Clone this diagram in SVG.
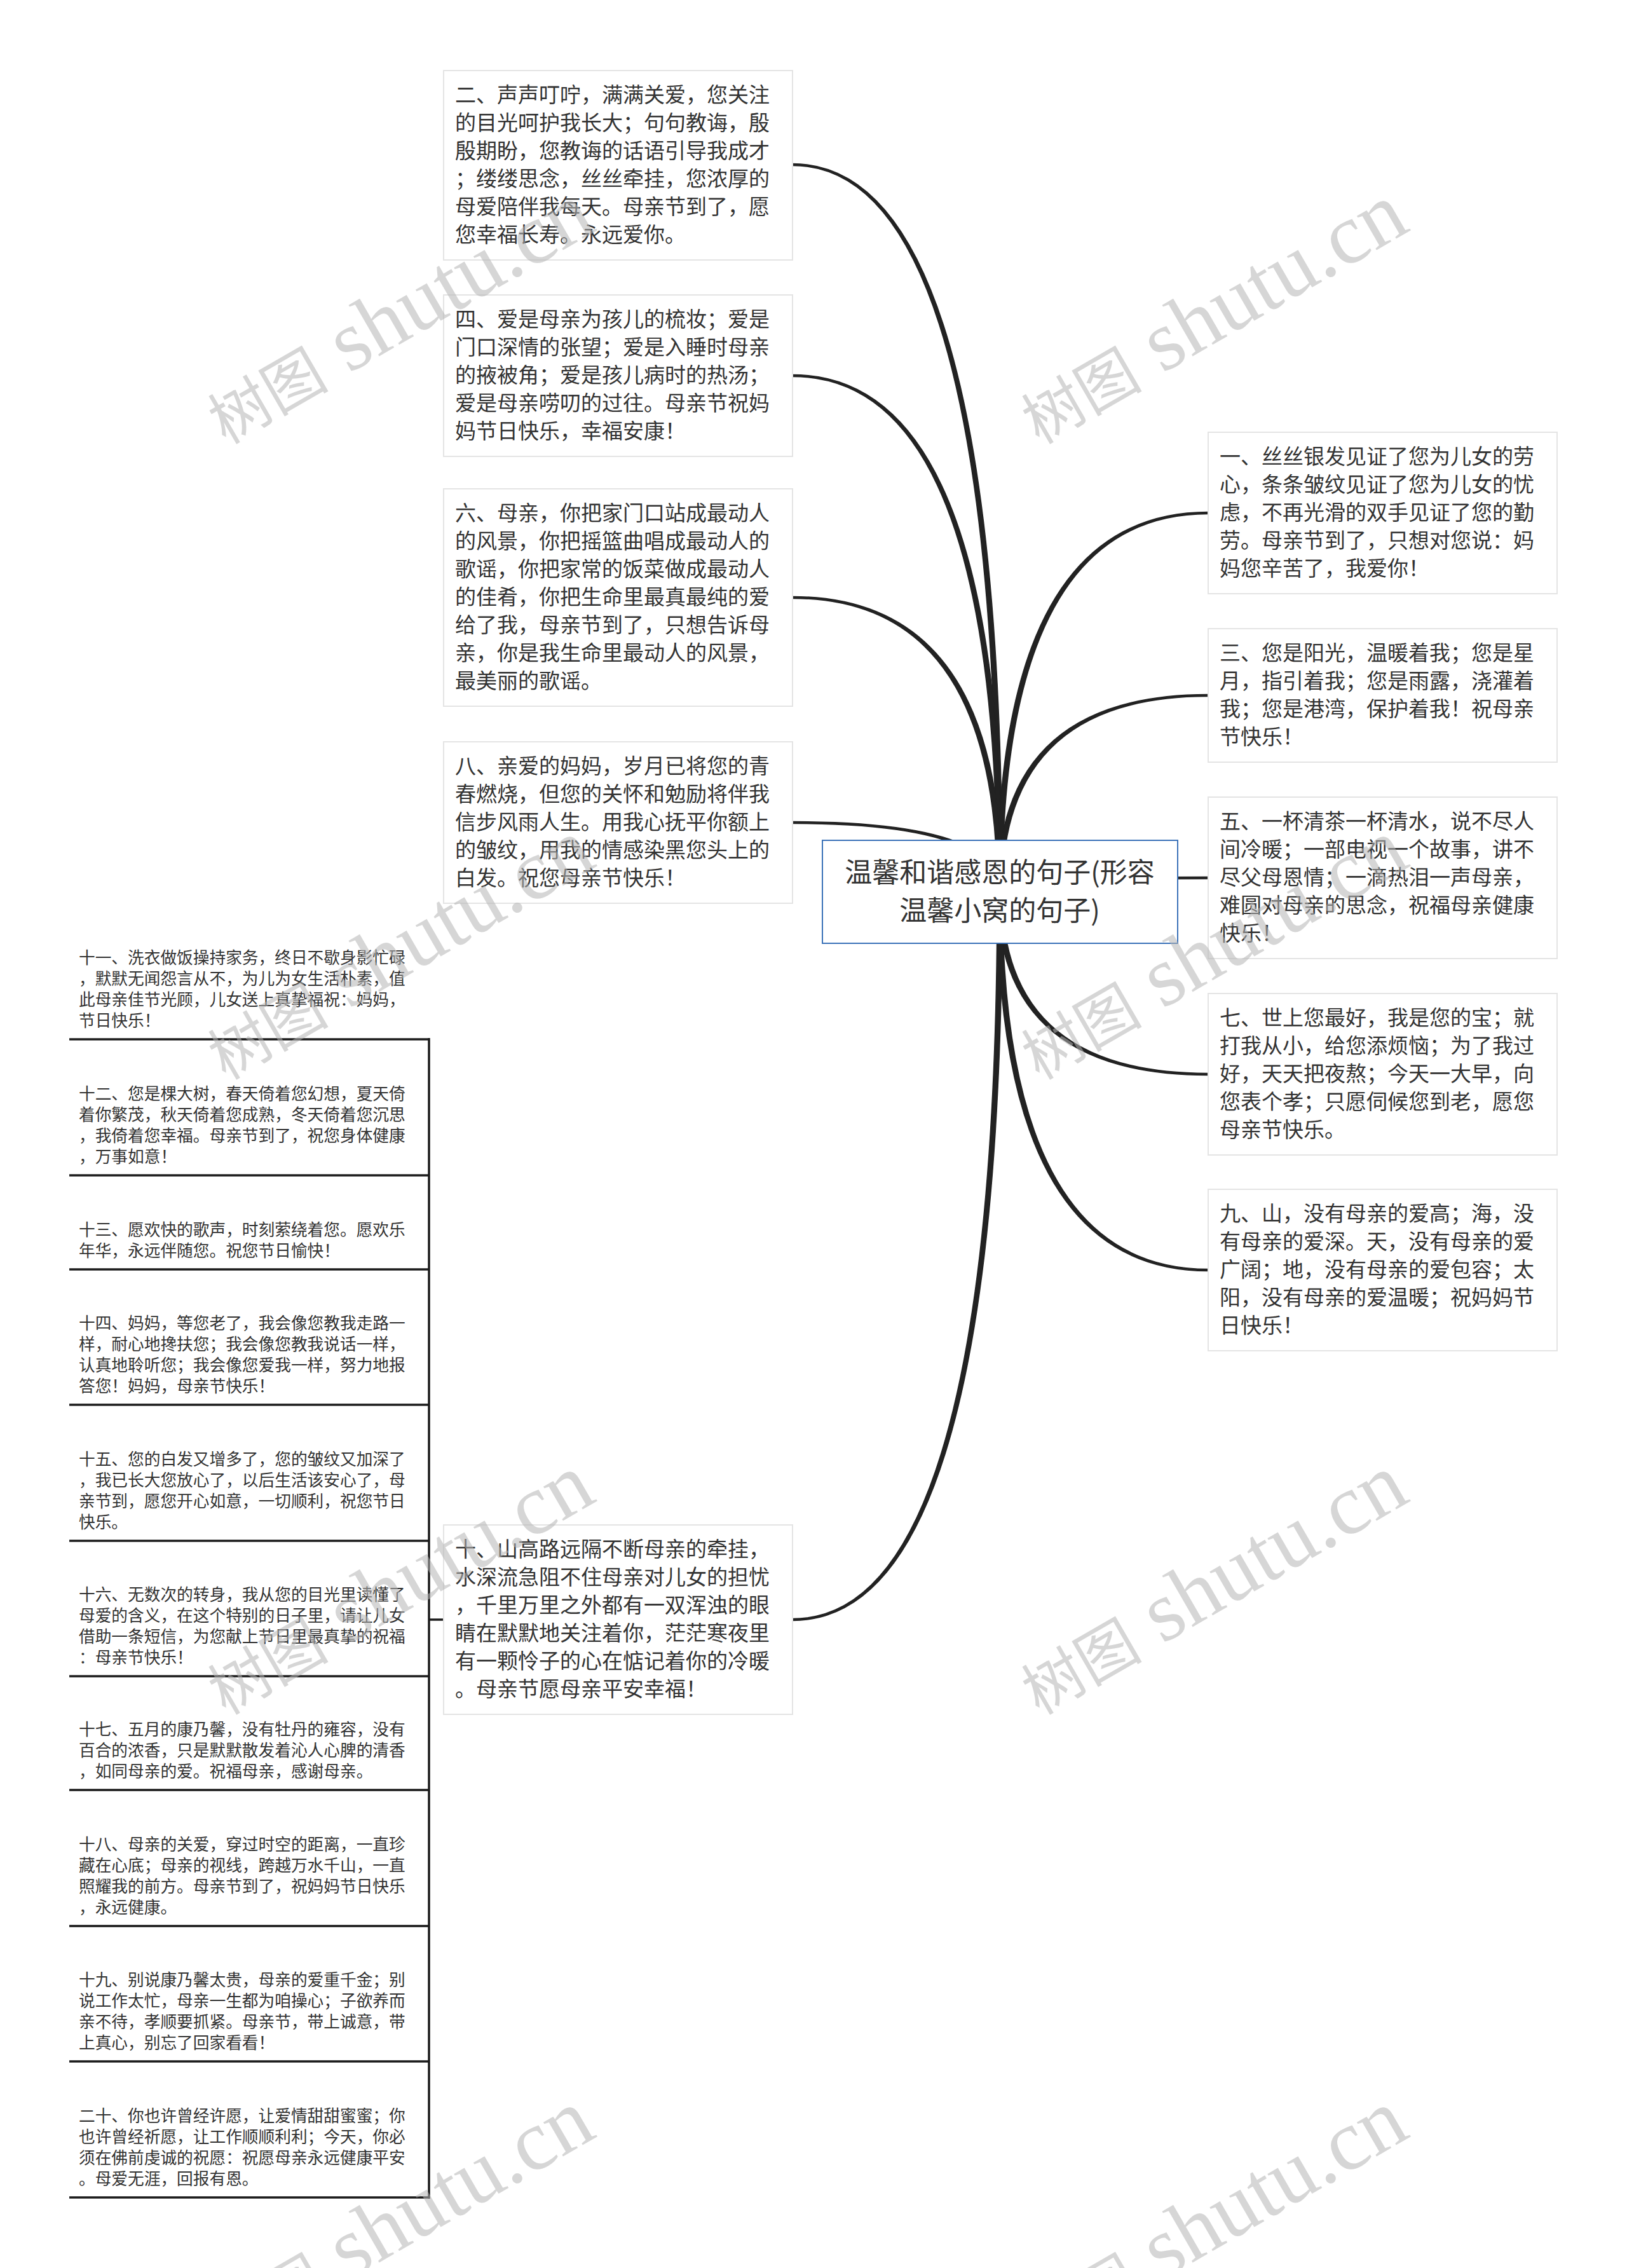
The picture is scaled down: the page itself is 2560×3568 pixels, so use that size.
<svg xmlns="http://www.w3.org/2000/svg" width="2560" height="3568" viewBox="0 0 2560 3568">
<style>
.bg{fill:#ffffff}
.box{fill:#ffffff;stroke:#e4e4e4;stroke-width:2}
.root{fill:#ffffff;stroke:#3b72b8;stroke-width:2}
.t{font-family:"Noto Sans CJK SC","Noto Sans",sans-serif;font-size:33px;fill:#333333}
.s{font-family:"Noto Sans CJK SC","Noto Sans",sans-serif;font-size:25.7px;fill:#333333}
.c{font-family:"Noto Sans CJK SC","Noto Sans",sans-serif;font-size:43px;fill:#333333;text-anchor:middle}
.link{fill:#222222;stroke:#222222;stroke-width:1.5;stroke-linejoin:round}
.tree{fill:none;stroke:#1a1a1a;stroke-width:3.5}
.ul{stroke:#1a1a1a;stroke-width:3.5}
.wm{font-family:"Liberation Serif","Noto Sans CJK SC",serif;fill:#b4b4b4;fill-opacity:0.55}
</style>
<rect class="bg" x="0" y="0" width="2560" height="3568"/>
<g id="connectors">
<path class="link" d="M1569,1403 Q1569,260.5 1247,260.5 L1247,257.5 Q1577,257.5 1577,1403 Z"/>
<path class="link" d="M1569,1403 Q1569,592.5 1247,592.5 L1247,589.5 Q1577,589.5 1577,1403 Z"/>
<path class="link" d="M1569,1403 Q1569,941.5 1247,941.5 L1247,938.5 Q1577,938.5 1577,1403 Z"/>
<path class="link" d="M1569,1403 Q1569,1295.5 1247,1295.5 L1247,1292.5 Q1577,1292.5 1577,1403 Z"/>
<path class="link" d="M1569,1403 Q1569,2546.5 1247,2546.5 L1247,2549.5 Q1577,2549.5 1577,1403 Z"/>
<path class="link" d="M1577,1403 Q1577,808.5 1901,808.5 L1901,805.5 Q1569,805.5 1569,1403 Z"/>
<path class="link" d="M1577,1403 Q1577,1095.5 1901,1095.5 L1901,1092.5 Q1569,1092.5 1569,1403 Z"/>
<path class="link" d="M1577,1403 Q1577,1382.5 1901,1382.5 L1901,1379.5 Q1569,1379.5 1569,1403 Z"/>
<path class="link" d="M1577,1403 Q1577,1688.5 1901,1688.5 L1901,1691.5 Q1569,1691.5 1569,1403 Z"/>
<path class="link" d="M1577,1403 Q1577,1996.5 1901,1996.5 L1901,1999.5 Q1569,1999.5 1569,1403 Z"/>
<path class="tree" d="M698,2548 H675"/>
<path class="tree" d="M675,1633 V3459"/>
</g>
<g id="root">
<rect class="root" x="1294" y="1322" width="559" height="162"/>
<text class="c" x="1573" y="1388">温馨和谐感恩的句子(形容</text>
<text class="c" x="1573" y="1448">温馨小窝的句子)</text>
</g>
<g id="n2">
<rect class="box" x="698" y="111" width="549" height="298"/>
<text class="t" x="716" y="161">二、声声叮咛，满满关爱，您关注</text>
<text class="t" x="716" y="205">的目光呵护我长大；句句教诲，殷</text>
<text class="t" x="716" y="249">殷期盼，您教诲的话语引导我成才</text>
<text class="t" x="716" y="293">；缕缕思念，丝丝牵挂，您浓厚的</text>
<text class="t" x="716" y="337">母爱陪伴我每天。母亲节到了，愿</text>
<text class="t" x="716" y="381">您幸福长寿。永远爱你。</text>
</g>
<g id="n4">
<rect class="box" x="698" y="464" width="549" height="254"/>
<text class="t" x="716" y="514">四、爱是母亲为孩儿的梳妆；爱是</text>
<text class="t" x="716" y="558">门口深情的张望；爱是入睡时母亲</text>
<text class="t" x="716" y="602">的掖被角；爱是孩儿病时的热汤；</text>
<text class="t" x="716" y="646">爱是母亲唠叨的过往。母亲节祝妈</text>
<text class="t" x="716" y="690">妈节日快乐，幸福安康！</text>
</g>
<g id="n6">
<rect class="box" x="698" y="769" width="549" height="342"/>
<text class="t" x="716" y="819">六、母亲，你把家门口站成最动人</text>
<text class="t" x="716" y="863">的风景，你把摇篮曲唱成最动人的</text>
<text class="t" x="716" y="907">歌谣，你把家常的饭菜做成最动人</text>
<text class="t" x="716" y="951">的佳肴，你把生命里最真最纯的爱</text>
<text class="t" x="716" y="995">给了我，母亲节到了，只想告诉母</text>
<text class="t" x="716" y="1039">亲，你是我生命里最动人的风景，</text>
<text class="t" x="716" y="1083">最美丽的歌谣。</text>
</g>
<g id="n8">
<rect class="box" x="698" y="1167" width="549" height="254"/>
<text class="t" x="716" y="1217">八、亲爱的妈妈，岁月已将您的青</text>
<text class="t" x="716" y="1261">春燃烧，但您的关怀和勉励将伴我</text>
<text class="t" x="716" y="1305">信步风雨人生。用我心抚平你额上</text>
<text class="t" x="716" y="1349">的皱纹，用我的情感染黑您头上的</text>
<text class="t" x="716" y="1393">白发。祝您母亲节快乐！</text>
</g>
<g id="n10">
<rect class="box" x="698" y="2399" width="549" height="298"/>
<text class="t" x="716" y="2449">十、山高路远隔不断母亲的牵挂，</text>
<text class="t" x="716" y="2493">水深流急阻不住母亲对儿女的担忧</text>
<text class="t" x="716" y="2537">，千里万里之外都有一双浑浊的眼</text>
<text class="t" x="716" y="2581">睛在默默地关注着你，茫茫寒夜里</text>
<text class="t" x="716" y="2625">有一颗怜子的心在惦记着你的冷暖</text>
<text class="t" x="716" y="2669">。母亲节愿母亲平安幸福！</text>
</g>
<g id="n1">
<rect class="box" x="1901" y="680" width="549" height="254"/>
<text class="t" x="1919" y="730">一、丝丝银发见证了您为儿女的劳</text>
<text class="t" x="1919" y="774">心，条条皱纹见证了您为儿女的忧</text>
<text class="t" x="1919" y="818">虑，不再光滑的双手见证了您的勤</text>
<text class="t" x="1919" y="862">劳。母亲节到了，只想对您说：妈</text>
<text class="t" x="1919" y="906">妈您辛苦了，我爱你！</text>
</g>
<g id="n3">
<rect class="box" x="1901" y="989" width="549" height="210"/>
<text class="t" x="1919" y="1039">三、您是阳光，温暖着我；您是星</text>
<text class="t" x="1919" y="1083">月，指引着我；您是雨露，浇灌着</text>
<text class="t" x="1919" y="1127">我；您是港湾，保护着我！祝母亲</text>
<text class="t" x="1919" y="1171">节快乐！</text>
</g>
<g id="n5">
<rect class="box" x="1901" y="1254" width="549" height="254"/>
<text class="t" x="1919" y="1304">五、一杯清茶一杯清水，说不尽人</text>
<text class="t" x="1919" y="1348">间冷暖；一部电视一个故事，讲不</text>
<text class="t" x="1919" y="1392">尽父母恩情；一滴热泪一声母亲，</text>
<text class="t" x="1919" y="1436">难圆对母亲的思念，祝福母亲健康</text>
<text class="t" x="1919" y="1480">快乐！</text>
</g>
<g id="n7">
<rect class="box" x="1901" y="1563" width="549" height="254"/>
<text class="t" x="1919" y="1613">七、世上您最好，我是您的宝；就</text>
<text class="t" x="1919" y="1657">打我从小，给您添烦恼；为了我过</text>
<text class="t" x="1919" y="1701">好，天天把夜熬；今天一大早，向</text>
<text class="t" x="1919" y="1745">您表个孝；只愿伺候您到老，愿您</text>
<text class="t" x="1919" y="1789">母亲节快乐。</text>
</g>
<g id="n9">
<rect class="box" x="1901" y="1871" width="549" height="254"/>
<text class="t" x="1919" y="1921">九、山，没有母亲的爱高；海，没</text>
<text class="t" x="1919" y="1965">有母亲的爱深。天，没有母亲的爱</text>
<text class="t" x="1919" y="2009">广阔；地，没有母亲的爱包容；太</text>
<text class="t" x="1919" y="2053">阳，没有母亲的爱温暖；祝妈妈节</text>
<text class="t" x="1919" y="2097">日快乐！</text>
</g>
<g id="n11">
<text class="s" x="124" y="1516">十一、洗衣做饭操持家务，终日不歇身影忙碌</text>
<text class="s" x="124" y="1549">，默默无闻怨言从不，为儿为女生活朴素，值</text>
<text class="s" x="124" y="1582">此母亲佳节光顾，儿女送上真挚福祝：妈妈，</text>
<text class="s" x="124" y="1615">节日快乐！</text>
<line class="ul" x1="109" y1="1635" x2="675" y2="1635"/>
</g>
<g id="n12">
<text class="s" x="124" y="1730">十二、您是棵大树，春天倚着您幻想，夏天倚</text>
<text class="s" x="124" y="1763">着你繁茂，秋天倚着您成熟，冬天倚着您沉思</text>
<text class="s" x="124" y="1796">，我倚着您幸福。母亲节到了，祝您身体健康</text>
<text class="s" x="124" y="1829">，万事如意！</text>
<line class="ul" x1="109" y1="1849" x2="675" y2="1849"/>
</g>
<g id="n13">
<text class="s" x="124" y="1944">十三、愿欢快的歌声，时刻萦绕着您。愿欢乐</text>
<text class="s" x="124" y="1977">年华，永远伴随您。祝您节日愉快！</text>
<line class="ul" x1="109" y1="1997" x2="675" y2="1997"/>
</g>
<g id="n14">
<text class="s" x="124" y="2091">十四、妈妈，等您老了，我会像您教我走路一</text>
<text class="s" x="124" y="2124">样，耐心地搀扶您；我会像您教我说话一样，</text>
<text class="s" x="124" y="2157">认真地聆听您；我会像您爱我一样，努力地报</text>
<text class="s" x="124" y="2190">答您！妈妈，母亲节快乐！</text>
<line class="ul" x1="109" y1="2210" x2="675" y2="2210"/>
</g>
<g id="n15">
<text class="s" x="124" y="2305">十五、您的白发又增多了，您的皱纹又加深了</text>
<text class="s" x="124" y="2338">，我已长大您放心了，以后生活该安心了，母</text>
<text class="s" x="124" y="2371">亲节到，愿您开心如意，一切顺利，祝您节日</text>
<text class="s" x="124" y="2404">快乐。</text>
<line class="ul" x1="109" y1="2424" x2="675" y2="2424"/>
</g>
<g id="n16">
<text class="s" x="124" y="2518">十六、无数次的转身，我从您的目光里读懂了</text>
<text class="s" x="124" y="2551">母爱的含义，在这个特别的日子里，请让儿女</text>
<text class="s" x="124" y="2584">借助一条短信，为您献上节日里最真挚的祝福</text>
<text class="s" x="124" y="2617">：母亲节快乐！</text>
<line class="ul" x1="109" y1="2637" x2="675" y2="2637"/>
</g>
<g id="n17">
<text class="s" x="124" y="2730">十七、五月的康乃馨，没有牡丹的雍容，没有</text>
<text class="s" x="124" y="2763">百合的浓香，只是默默散发着沁人心脾的清香</text>
<text class="s" x="124" y="2796">，如同母亲的爱。祝福母亲，感谢母亲。</text>
<line class="ul" x1="109" y1="2816" x2="675" y2="2816"/>
</g>
<g id="n18">
<text class="s" x="124" y="2911">十八、母亲的关爱，穿过时空的距离，一直珍</text>
<text class="s" x="124" y="2944">藏在心底；母亲的视线，跨越万水千山，一直</text>
<text class="s" x="124" y="2977">照耀我的前方。母亲节到了，祝妈妈节日快乐</text>
<text class="s" x="124" y="3010">，永远健康。</text>
<line class="ul" x1="109" y1="3030" x2="675" y2="3030"/>
</g>
<g id="n19">
<text class="s" x="124" y="3124">十九、别说康乃馨太贵，母亲的爱重千金；别</text>
<text class="s" x="124" y="3157">说工作太忙，母亲一生都为咱操心；子欲养而</text>
<text class="s" x="124" y="3190">亲不待，孝顺要抓紧。母亲节，带上诚意，带</text>
<text class="s" x="124" y="3223">上真心，别忘了回家看看！</text>
<line class="ul" x1="109" y1="3243" x2="675" y2="3243"/>
</g>
<g id="n20">
<text class="s" x="124" y="3338">二十、你也许曾经许愿，让爱情甜甜蜜蜜；你</text>
<text class="s" x="124" y="3371">也许曾经祈愿，让工作顺顺利利；今天，你必</text>
<text class="s" x="124" y="3404">须在佛前虔诚的祝愿：祝愿母亲永远健康平安</text>
<text class="s" x="124" y="3437">。母爱无涯，回报有恩。</text>
<line class="ul" x1="109" y1="3457" x2="675" y2="3457"/>
</g>
<g id="watermarks">
<text class="wm" transform="translate(355,700) rotate(-30)"><tspan font-size="95">树图</tspan><tspan font-size="135"> shutu.cn</tspan></text>
<text class="wm" transform="translate(1635,700) rotate(-30)"><tspan font-size="95">树图</tspan><tspan font-size="135"> shutu.cn</tspan></text>
<text class="wm" transform="translate(355,1700) rotate(-30)"><tspan font-size="95">树图</tspan><tspan font-size="135"> shutu.cn</tspan></text>
<text class="wm" transform="translate(1635,1700) rotate(-30)"><tspan font-size="95">树图</tspan><tspan font-size="135"> shutu.cn</tspan></text>
<text class="wm" transform="translate(355,2699) rotate(-30)"><tspan font-size="95">树图</tspan><tspan font-size="135"> shutu.cn</tspan></text>
<text class="wm" transform="translate(1635,2699) rotate(-30)"><tspan font-size="95">树图</tspan><tspan font-size="135"> shutu.cn</tspan></text>
<text class="wm" transform="translate(355,3699) rotate(-30)"><tspan font-size="95">树图</tspan><tspan font-size="135"> shutu.cn</tspan></text>
<text class="wm" transform="translate(1635,3699) rotate(-30)"><tspan font-size="95">树图</tspan><tspan font-size="135"> shutu.cn</tspan></text>
</g>
</svg>
